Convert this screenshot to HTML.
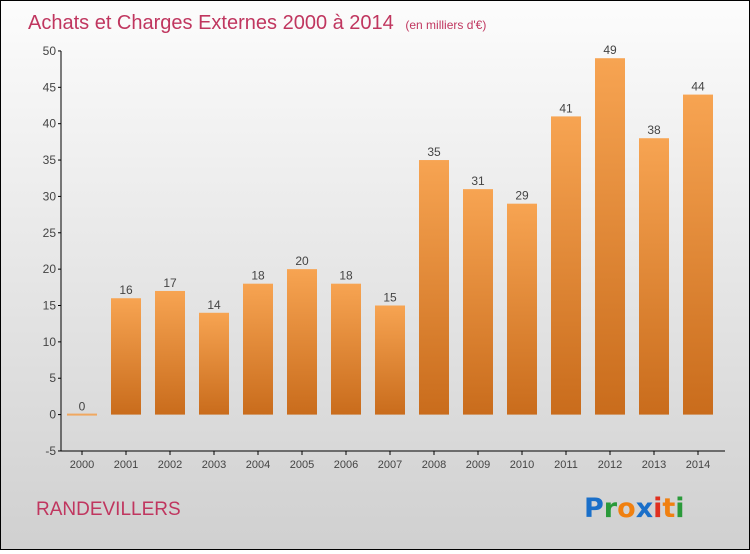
<!DOCTYPE html>
<html><head><meta charset="utf-8"><style>
html,body{margin:0;padding:0}
body{width:750px;height:550px;overflow:hidden;font-family:"Liberation Sans",sans-serif}
#wrap{position:absolute;left:0;top:0;width:748px;height:548px;border:1px solid #000;background:linear-gradient(#fcfcfc,#d0d0d0)}
</style></head><body>
<div id="wrap">
<svg id="chart" width="748" height="548" xmlns="http://www.w3.org/2000/svg">
<defs><linearGradient id="bg" x1="0" y1="0" x2="0" y2="1"><stop offset="0" stop-color="#f7a452"/><stop offset="1" stop-color="#c96c1c"/></linearGradient></defs>
<text x="27" y="28" font-size="20" fill="#c0365f">Achats et Charges Externes 2000 à 2014 <tspan font-size="12" dx="6">(en milliers d'€)</tspan></text>
<text x="35" y="514" font-size="19" fill="#c0365f">RANDEVILLERS</text>
<g font-size="27" font-weight="bold" font-family="'DejaVu Sans',sans-serif">
<text x="583" y="516"><tspan fill="#1a6fc9">P</tspan><tspan fill="#2a9a3a">r</tspan><tspan fill="#f08010">o</tspan><tspan fill="#1a6fc9">x</tspan><tspan fill="#e03020">i</tspan><tspan fill="#f08010">t</tspan><tspan fill="#2a9a3a">i</tspan></text>
</g>
<g id="axes"></g><g id="bars"></g>
</svg>
</div>
<script>
const categories=["2000","2001","2002","2003","2004","2005","2006","2007","2008","2009","2010","2011","2012","2013","2014"];
const values=[0,16,17,14,18,20,18,15,35,31,29,41,49,38,44];
const yTicks=[-5,0,5,10,15,20,25,30,35,40,45,50];
const NS="http://www.w3.org/2000/svg";
const y=v=>413.6-v*7.273;
const x=i=>81+i*44;
const ax=document.getElementById('axes'),bg=document.getElementById('bars');
function mk(tag,attrs,parent,txt){const e=document.createElementNS(NS,tag);for(const k in attrs)e.setAttribute(k,attrs[k]);if(txt!==undefined)e.textContent=txt;parent.appendChild(e);return e;}
let l=mk('line',{x1:60,y1:y(50),x2:60,y2:y(-5),stroke:'#000','stroke-width':1},ax);


l=mk('line',{x1:60,y1:y(-5),x2:724,y2:y(-5),stroke:'#000','stroke-width':1},ax);


yTicks.forEach(t=>{
 mk('line',{x1:57,x2:60,y1:y(t),y2:y(t),stroke:'#000'},ax);
 const tx=mk('text',{x:55,y:y(t)+4,'text-anchor':'end','font-size':12,fill:'#444'},ax,String(t));
 
 
});
categories.forEach((c,i)=>{
 mk('line',{x1:x(i),x2:x(i),y1:y(-5),y2:y(-5)+4,stroke:'#000'},ax);
 const tx=mk('text',{x:x(i),y:y(-5)+17,'text-anchor':'middle','font-size':11,fill:'#444'},ax,c);
 
 
 const v=values[i];
 const top=y(Math.max(v,0)),h=Math.max(Math.abs(y(0)-y(v)),2);
 const r=mk('rect',{x:x(i)-15,y:v===0?y(0)-1:top,width:30,height:h,fill:v===0?'#f0a860':'url(#bg)'},bg);
 
 
 const lb=mk('text',{x:x(i),y:(v===0?y(0):top)-4,'text-anchor':'middle','font-size':12,fill:'#444'},bg,String(v));
 
 
});
</script>
</body></html>
